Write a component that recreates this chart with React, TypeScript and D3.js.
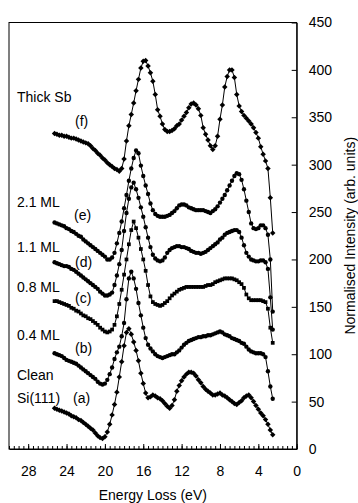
import { useEffect, useRef } from "react";
import * as d3 from "d3";

// Energy loss grid (eV), shared by every spectrum
const energy = [
  25.25, 25, 24.75, 24.5, 24.25, 24, 23.75, 23.5, 23.25, 23,
  22.75, 22.5, 22.25, 22, 21.75, 21.5, 21.25, 21, 20.75, 20.5,
  20.25, 20, 19.75, 19.5, 19.25, 19, 18.75, 18.5, 18.25, 18,
  17.75, 17.5, 17.25, 17, 16.75, 16.5, 16.25, 16, 15.75, 15.5,
  15.25, 15, 14.75, 14.5, 14.25, 14, 13.75, 13.5, 13.25, 13,
  12.75, 12.5, 12.25, 12, 11.75, 11.5, 11.25, 11, 10.75, 10.5,
  10.25, 10, 9.75, 9.5, 9.25, 9, 8.75, 8.5, 8.25, 8,
  7.75, 7.5, 7.25, 7, 6.75, 6.5, 6.25, 6, 5.75, 5.5,
  5.25, 5, 4.75, 4.5, 4.25, 4, 3.75, 3.5, 3.25, 3,
  2.75, 2.5,
];

// (a) Clean Si(111)
const cleanSi = [
  43, 42, 41, 40, 39, 38, 37, 35, 34, 33,
  31, 30, 28, 26, 24, 22, 20, 17, 14, 12,
  11, 13, 18, 26, 36, 47, 60, 76, 92, 109,
  123, 127, 121, 113, 104, 93, 80, 69, 59, 54,
  55, 57, 56, 54, 53, 51, 48, 45, 43, 46,
  52, 61, 67, 72, 76, 79, 81, 81, 80, 77,
  73, 70, 66, 63, 61, 59, 57, 57, 58, 59,
  57, 56, 54, 52, 50, 48, 47, 49, 51, 54,
  56, 57, 54, 50, 46, 42, 38, 35, 31, 26,
  20, 15,
];

// (b) 0.4 ML
const ml04 = [
  101, 100, 99, 98, 96, 94, 93, 92, 91, 90,
  88, 86, 84, 82, 80, 78, 76, 74, 71, 69,
  68, 69, 73, 79, 86, 95, 102, 108, 119, 133,
  158, 180, 187, 180, 169, 154, 141, 128, 117, 110,
  106, 103, 100, 98, 97, 96, 97, 98, 99, 100,
  100, 102, 104, 107, 110, 112, 114, 115, 116, 117,
  118, 118, 119, 119, 120, 120, 121, 122, 123, 124,
  123, 121, 120, 119, 117, 116, 115, 114, 112, 111,
  108, 105, 103, 102, 101, 101, 101, 100, 97, 82,
  66, 53,
];

// (c) 0.8 ML
const ml08 = [
  156, 156, 155, 154, 153, 152, 151, 149, 148, 146,
  145, 143, 141, 140, 138, 137, 135, 133, 131, 128,
  126, 124, 123, 124, 126, 131, 140, 153, 168, 184,
  200, 216, 231, 240, 233, 223, 211, 200, 188, 173,
  161, 155, 153, 152, 151, 152, 154, 156, 159, 162,
  164, 166, 168, 169, 170, 171, 171, 171, 171, 171,
  171, 171, 171, 172, 173, 173, 174, 176, 177, 178,
  179, 180, 180, 180, 180, 179, 178, 176, 174, 170,
  163, 159, 157, 157, 157, 157, 157, 156, 155, 148,
  128, 112,
];

// (d) 1.1 ML
const ml11 = [
  197, 196, 195, 194, 193, 193, 192, 190, 189, 187,
  185, 183, 181, 179, 177, 175, 173, 171, 169, 166,
  164, 162, 162, 163, 165, 173, 183, 195, 210, 230,
  249, 264, 276, 281, 274, 265, 255, 245, 234, 223,
  213, 205, 201, 199, 198, 199, 202, 207, 210, 212,
  213, 214, 214, 213, 213, 212, 211, 209, 208, 207,
  207, 206, 207, 208, 210, 212, 214, 216, 218, 221,
  223, 226, 228, 229, 230, 231, 231, 229, 223, 215,
  207, 203, 200, 199, 198, 198, 199, 199, 197, 190,
  160, 126,
];

// (e) 2.1 ML
const ml21 = [
  239, 238, 237, 236, 235, 233, 232, 230, 229, 227,
  225, 224, 221, 219, 217, 215, 213, 211, 209, 207,
  205, 203, 200, 200, 202, 207, 217, 228, 240, 254,
  268, 283, 296, 307, 315, 312, 299, 288, 278, 269,
  259, 252, 248, 246, 245, 245, 245, 246, 247, 249,
  251, 254, 257, 258, 258, 257, 255, 254, 253, 252,
  252, 252, 252, 251, 250, 249, 251, 253, 256, 260,
  264, 268, 273, 278, 283, 288, 291, 290, 284, 274,
  262, 250, 238, 233, 232, 233, 236, 236, 233, 226,
  200, 145,
];

// (f) Thick Sb
const thickSb = [
  333, 332, 331, 331, 330, 330, 329, 328, 328, 327,
  326, 325, 324, 323, 322, 320, 317, 315, 312, 310,
  307, 305, 302, 300, 298, 296, 295, 293, 296, 306,
  325, 341, 353, 365, 378, 390, 402, 409, 410, 404,
  397, 388, 374, 358, 351, 343, 337, 335, 335, 336,
  338, 341, 343, 347, 351, 355, 360, 364, 365, 363,
  359, 352, 339, 332, 326, 320, 316, 320, 330, 348,
  363, 382, 393, 400, 400, 392, 374, 362, 356, 352,
  349, 346, 343, 339, 334, 328, 319, 311, 304, 296,
  265, 228,
];

const series = [cleanSi, ml04, ml08, ml11, ml21, thickSb];
const markerKinds = ["diamond", "circle", "square", "circle", "circle", "diamond"];

const coverageLabels = ["Clean", "0.4 ML", "0.8 ML", "1.1 ML", "2.1 ML", "Thick Sb"];
const letterLabels = ["(a)", "(b)", "(c)", "(d)", "(e)", "(f)"];

const xTickLabels = [28, 24, 20, 16, 12, 8, 4, 0];
const yTickLabels = [0, 50, 100, 150, 200, 250, 300, 350, 400, 450];

const FONT = "'Liberation Sans', Arial, Helvetica, sans-serif";

const App = () => {
  const svgRef = useRef<SVGSVGElement | null>(null);

  useEffect(() => {
    if (!svgRef.current) return;
    const svg = d3.select(svgRef.current);
    svg.selectAll("*").remove();

    const left = 9;
    const right = 296.7;
    const top = 22.5;
    const bottom = 449;

    const x = d3.scaleLinear().domain([30, 0]).range([left, right]);
    const y = d3.scaleLinear().domain([0, 450]).range([bottom, top]);

    // plot frame
    svg
      .append("rect")
      .attr("x", left)
      .attr("y", top)
      .attr("width", right - left)
      .attr("height", bottom - top)
      .attr("fill", "none")
      .attr("stroke", "#000")
      .attr("stroke-width", 1);

    // x axis: minor ticks every 0.5 eV, inward
    const minorTicks = d3.range(0, 30.01, 0.5);
    svg
      .append("g")
      .attr("transform", `translate(0,${bottom})`)
      .call(d3.axisBottom(x).tickValues(minorTicks).tickSize(-3).tickSizeOuter(0).tickFormat(() => ""))
      .call((g) => g.select(".domain").remove());

    const xAxis = svg
      .append("g")
      .attr("transform", `translate(0,${bottom})`)
      .call(
        d3
          .axisBottom(x)
          .tickValues(xTickLabels)
          .tickSize(-5)
          .tickSizeOuter(0)
          .tickPadding(17)
          .tickFormat((d) => String(d))
      );
    xAxis.select(".domain").attr("stroke", "#000");
    xAxis.selectAll("text").style("font-size", "14px").style("font-family", FONT).attr("fill", "#000");

    // y axis on the right, ticks inward
    const yAxis = svg
      .append("g")
      .attr("transform", `translate(${right},0)`)
      .call(
        d3
          .axisRight(y)
          .tickValues(yTickLabels)
          .tickSize(-5)
          .tickSizeOuter(0)
          .tickPadding(12)
          .tickFormat((d) => String(d))
      );
    yAxis.select(".domain").attr("stroke", "#000");
    yAxis.selectAll("text").style("font-size", "14px").style("font-family", FONT).attr("fill", "#000");

    // axis titles
    svg
      .append("text")
      .attr("x", (left + right) / 2)
      .attr("y", 500)
      .attr("text-anchor", "middle")
      .style("font-size", "14px")
      .style("font-family", FONT)
      .text("Energy Loss (eV)");

    svg
      .append("text")
      .attr("transform", `translate(355,${(top + bottom) / 2}) rotate(-90)`)
      .attr("text-anchor", "middle")
      .style("font-size", "14px")
      .style("font-family", FONT)
      .text("Normalised Intensity (arb. units)");

    // spectra
    const line = d3
      .line<number>()
      .x((_, i) => x(energy[i]))
      .y((d) => y(d));

    const symbols: Record<string, d3.SymbolType> = {
      diamond: d3.symbolSquare,
      square: d3.symbolSquare,
      circle: d3.symbolCircle,
    };
    const sizes: Record<string, number> = { diamond: 15, square: 14, circle: 15 };

    series.forEach((vals, s) => {
      svg
        .append("path")
        .attr("d", line(vals))
        .attr("fill", "none")
        .attr("stroke", "#000")
        .attr("stroke-width", 1);

      const kind = markerKinds[s];
      const sym = d3.symbol().type(symbols[kind]).size(sizes[kind]);
      svg
        .append("g")
        .selectAll("path")
        .data(vals)
        .enter()
        .append("path")
        .attr("d", sym() as string)
        .attr(
          "transform",
          (d, i) => `translate(${x(energy[i])},${y(d)})` + (kind === "diamond" ? " rotate(45)" : "")
        )
        .attr("fill", "#000");
    });

    // labels on the left
    const coveragePos = [
      [17, 380],
      [17, 340],
      [17, 291.5],
      [17, 252],
      [17, 206.5],
      [17, 101.5],
    ];
    const letterPos = [
      [73, 403],
      [75, 352.5],
      [75, 303],
      [75, 267],
      [74, 219.5],
      [75, 126],
    ];

    coverageLabels.forEach((t, i) => {
      svg
        .append("text")
        .attr("x", coveragePos[i][0])
        .attr("y", coveragePos[i][1])
        .style("font-size", "14px")
        .style("font-family", FONT)
        .text(t);
    });
    svg
      .append("text")
      .attr("x", 17)
      .attr("y", 403)
      .style("font-size", "14px")
      .style("font-family", FONT)
      .text("Si(111)");

    letterLabels.forEach((t, i) => {
      svg
        .append("text")
        .attr("x", letterPos[i][0])
        .attr("y", letterPos[i][1])
        .style("font-size", "14px")
        .style("font-family", FONT)
        .text(t);
    });
  }, []);

  return (
    <svg
      ref={svgRef}
      width={358}
      height={503}
      style={{ position: "absolute", left: 0, top: 0, background: "#fff" }}
    />
  );
};

export default App;
